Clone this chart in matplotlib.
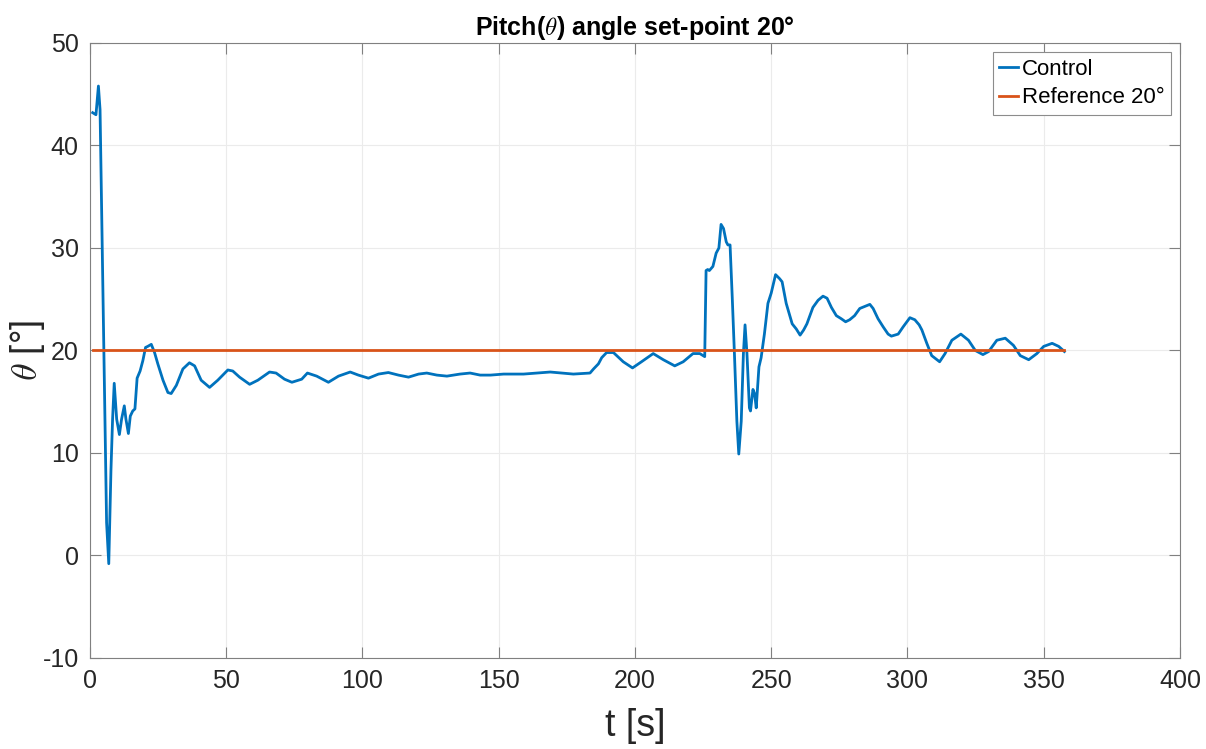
import numpy as np
import matplotlib
matplotlib.use("Agg")
import matplotlib.pyplot as plt

plt.rcParams['font.family'] = ['Liberation Sans', 'DejaVu Sans']
plt.rcParams['mathtext.fontset'] = 'cm'
plt.rcParams['axes.unicode_minus'] = False

# Pitch response
t_ctrl = [1.0, 2.2, 3.1, 3.7, 4.3, 4.9, 5.5, 6.1, 6.9, 7.7, 8.3, 8.9, 9.8, 10.8, 11.6,
          12.6, 13.2, 14.1, 14.8, 15.7, 16.5,
          17.3, 18.4, 19.4, 20.4, 21.2, 22.5, 23.7, 24.9, 26.8, 28.6, 29.8, 31.7, 34.1,
          36.5, 38.4, 40.8, 43.9, 46.9, 50.6, 52.4, 54.9, 58.6, 61.6, 65.9, 68.3, 71.4,
          74.1, 77.7, 79.8, 83.2, 87.5, 91.2, 95.5, 98.5, 102.2, 105.9, 109.5,
          113.2, 116.9, 120.6, 123.6, 127.3, 131.0, 135.8, 139.5, 143.2, 147.0, 151.8,
          159.1, 168.9, 177.4, 183.5, 184.8, 186.6, 187.8, 189.6, 192.1, 195.7, 199.1,
          202.4, 206.7, 210.4, 214.6, 217.7, 221.3, 223.8, 225.6, 226.1, 226.7, 227.3,
          228.6, 229.8, 230.8, 231.6, 232.5, 233.5, 234.1, 234.9, 235.7, 236.5, 237.4,
          238.1, 239.0, 239.8, 240.4, 241.1, 242.0, 242.4, 243.3, 243.9, 244.5, 245.5,
          246.3, 247.5, 248.8, 250.0, 251.6, 253.1, 254.0, 255.5, 257.7, 259.2, 260.6,
          261.9, 263.1, 265.3, 267.2, 269.0, 270.5, 272.1, 273.9, 275.7, 277.3, 278.8,
          280.6, 282.5, 284.3, 286.2, 287.4, 289.2, 291.1, 292.9, 294.1, 296.6, 298.4,
          300.9, 302.7, 304.3, 305.3, 307.1, 308.9, 311.8, 313.8, 316.3, 319.6, 322.4,
          324.9, 327.7, 329.8, 332.8, 335.9, 338.9, 341.4, 344.5, 347.5, 350.0, 353.1,
          355.5, 357.6]
theta_ctrl = [43.2, 43.0, 45.8, 43.5, 33.4, 23.4, 13.3, 3.2, -0.8, 8.3, 13.3, 16.8, 13.3,
              11.8, 13.3, 14.6, 13.3, 11.9, 13.6, 14.1, 14.3,
              17.3, 18.0, 19.0, 20.3, 20.4, 20.6, 19.8, 18.7, 17.1, 15.9, 15.8, 16.6, 18.2,
              18.8, 18.5, 17.1, 16.4, 17.1, 18.1, 18.0, 17.4, 16.7, 17.1, 17.9, 17.8, 17.2,
              16.9, 17.2, 17.8, 17.5, 16.9, 17.5, 17.9,
              17.6, 17.3, 17.7, 17.85, 17.6, 17.4, 17.7, 17.8, 17.6, 17.5, 17.7, 17.8,
              17.6, 17.6, 17.7, 17.7, 17.9, 17.7, 17.8, 18.2, 18.7, 19.3, 19.8, 19.8,
              18.9, 18.3, 18.9, 19.7, 19.1, 18.5, 18.9, 19.7, 19.7, 19.4, 27.8, 27.9,
              27.8, 28.2, 29.5, 30.0, 32.3, 31.9, 30.6, 30.3, 30.3, 25.2, 19.7, 13.1,
              9.9, 13.1, 19.7, 22.5, 19.7, 14.4, 14.1, 16.2, 15.8, 14.4, 18.4, 19.3,
              21.6, 24.6, 25.6, 27.4, 27.0, 26.7, 24.6, 22.6, 22.1, 21.5, 22.0, 22.6,
              24.2, 24.9, 25.3, 25.1, 24.2, 23.4, 23.1, 22.8, 23.0, 23.4, 24.1, 24.3,
              24.5, 24.1, 23.1, 22.3, 21.6, 21.4, 21.6, 22.3, 23.2, 23.0, 22.5, 22.0,
              20.7, 19.5, 18.9, 19.7, 21.0, 21.6, 21.0, 20.0, 19.6, 19.9, 21.0, 21.2,
              20.5, 19.5, 19.1, 19.7, 20.4, 20.7, 20.4, 19.9]

t_ref = [1.0, 357.6]
theta_ref = [20, 20]

x_ticks = [0, 50, 100, 150, 200, 250, 300, 350, 400]
y_ticks = [-10, 0, 10, 20, 30, 40, 50]

fig = plt.figure(figsize=(12.06, 7.49), dpi=100)
ax = fig.add_axes([0.0746, 0.1215, 0.9038, 0.8211])

ax.plot(t_ctrl, theta_ctrl, color='#0072BD', lw=2.0, label='Control')
ax.plot(t_ref, theta_ref, color='#D95319', lw=2.0, label='Reference 20°')

ax.set_xlim(0, 400)
ax.set_ylim(-10, 50)
ax.set_xticks(x_ticks)
ax.set_yticks(y_ticks)
ax.grid(True, color='#EBEBEB', lw=0.8)
ax.set_axisbelow(True)

ax.tick_params(direction='in', length=7.9, width=0.8, top=True, right=True,
               labelsize=18, colors='#808080', labelcolor='#262626', pad=8)
for sp in ax.spines.values():
    sp.set_color('#808080')
    sp.set_linewidth(0.8)

ax.set_title(r'Pitch($\theta$) angle set-point 20°', fontsize=18, fontweight='bold', pad=6)
ax.set_xlabel('t [s]', fontsize=27, color='#262626', labelpad=11)
ax.set_ylabel(r'$\theta$ [°]', fontsize=26, color='#262626', va='center')
ax.yaxis.set_label_coords(-0.057, 0.5)

leg = ax.legend(loc='upper right', fontsize=16, fancybox=False, framealpha=1,
                edgecolor='#8C8C8C', handlelength=0.85, handletextpad=0.15,
                borderaxespad=0.4, borderpad=0.3, labelspacing=0.35)
leg.get_frame().set_linewidth(0.8)

fig.savefig('out.png', dpi=100)
